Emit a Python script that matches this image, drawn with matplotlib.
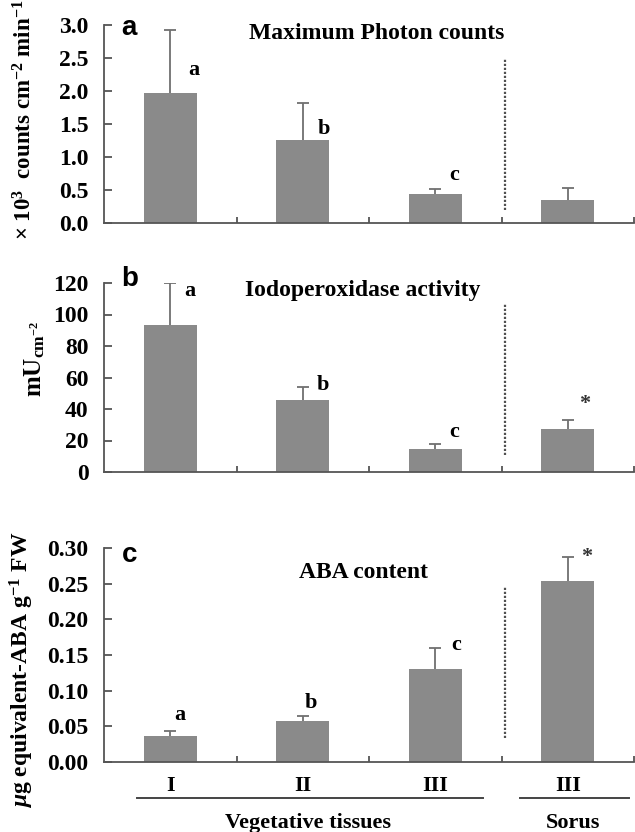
import matplotlib
matplotlib.use("Agg")
import matplotlib.pyplot as plt
import matplotlib.transforms as mtransforms
from matplotlib.lines import Line2D

plt.rcParams['font.family'] = ['Liberation Serif', 'DejaVu Serif']
plt.rcParams['font.weight'] = 'bold'
plt.rcParams['mathtext.fontset'] = 'custom'
plt.rcParams['mathtext.rm'] = 'Liberation Serif:bold'
plt.rcParams['mathtext.it'] = 'Liberation Serif:bold:italic'
plt.rcParams['mathtext.bf'] = 'Liberation Serif:bold'

# ---------------- data ----------------
categories = ["I", "II", "III", "III"]
groups = ["Vegetative tissues", "Sorus"]

photon_vals = [1.97, 1.26, 0.445, 0.355]
photon_tops = [2.93, 1.82, 0.51, 0.53]
photon_sig = ["a", "b", "c", ""]
photon_sig_y = [2.32, 1.43, 0.72, 0.0]

iodo_vals = [93.5, 45.7, 14.5, 27.5]
iodo_tops = [120, 54, 17.5, 33]
iodo_sig = ["a", "b", "c", "*"]
iodo_sig_y = [115, 55.5, 25.6, 43]

aba_vals = [0.036, 0.057, 0.131, 0.254]
aba_tops = [0.044, 0.065, 0.160, 0.287]
aba_sig = ["a", "b", "c", "*"]
aba_sig_y = [0.066, 0.083, 0.164, 0.288]

panels = [
    dict(letter="a", title="Maximum Photon counts", vals=photon_vals, tops=photon_tops,
         sig=photon_sig, sig_y=photon_sig_y, ylim=3.0, yticks=[0.0, 0.5, 1.0, 1.5, 2.0, 2.5, 3.0],
         fmt="{:.1f}", title_xy=(1.56, 2.87), letter_y=2.95, sig_dx=[0.18, 0.16, 0.14, 0.14],
         dotted=(0.19, 2.48),
         ylabel=r"$\times$ 10$^{3}$  counts cm$^{-2}$ min$^{-1}$", ylabel_xy=(-0.128, 0.52),
         ylabel_size=16.5,
         rect=[104/635, (832-223)/832, 530/635, 198/832]),
    dict(letter="b", title="Iodoperoxidase activity", vals=iodo_vals, tops=iodo_tops,
         sig=iodo_sig, sig_y=iodo_sig_y, ylim=120, yticks=[0, 20, 40, 60, 80, 100, 120],
         fmt="{:d}", title_xy=(1.45, 115), letter_y=122.5, sig_dx=[0.15, 0.15, 0.14, 0.13],
         dotted=(10.7, 107),
         ylabel=r"mU$_{\mathrm{cm}^{-2}}$", ylabel_xy=(-0.108, 0.6),
         ylabel_size=18,
         rect=[104/635, (832-472)/832, 530/635, 189/832]),
    dict(letter="c", title="ABA content", vals=aba_vals, tops=aba_tops,
         sig=aba_sig, sig_y=aba_sig_y, ylim=0.30, yticks=[0.0, 0.05, 0.10, 0.15, 0.20, 0.25, 0.30],
         fmt="{:.2f}", title_xy=(1.46, 0.265), letter_y=0.29, sig_dx=[0.07, 0.06, 0.16, 0.14],
         dotted=(0.033, 0.246),
         ylabel=r"$\mu$g equivalent-ABA g$^{-1}$ FW", ylabel_xy=(-0.128, 0.43),
         ylabel_size=17,
         rect=[104/635, (832-762)/832, 530/635, 214/832]),
]

bar_color = "#8a8a8a"
err_color = "#707070"
axis_color = "#555555"

fig = plt.figure(figsize=(6.35, 8.32), dpi=100)

x = list(range(len(categories)))
axes = []
for p in panels:
    ax = fig.add_axes(p["rect"])
    axes.append(ax)
    ax.bar(x, p["vals"], width=0.40, color=bar_color, edgecolor="none", zorder=2)
    yerr_up = [t - v for t, v in zip(p["tops"], p["vals"])]
    eb = ax.errorbar(x, p["vals"], yerr=[[0]*len(x), yerr_up], fmt="none", ecolor=err_color,
                     elinewidth=1.3, capsize=4.5, capthick=1.3, zorder=3)
    # hide the lower caps (only upper error bars are drawn in the figure)
    eb[1][0].set_visible(False)
    ax.set_xlim(-0.5, 3.5)
    ax.set_ylim(0, p["ylim"])
    for s in ["top", "right"]:
        ax.spines[s].set_visible(False)
    for s in ["left", "bottom"]:
        ax.spines[s].set_color(axis_color)
        ax.spines[s].set_linewidth(1.3)
    ax.set_yticks(p["yticks"])
    if p["fmt"] == "{:d}":
        ax.set_yticklabels([str(int(t)) for t in p["yticks"]])
    else:
        ax.set_yticklabels([p["fmt"].format(t) for t in p["yticks"]])
    ax.set_xticks([0.5, 1.5, 2.5, 3.5])
    ax.set_xticklabels([])
    ax.tick_params(axis="y", direction="in", length=6, width=1.3, color=axis_color,
                   labelsize=17, pad=11)
    ax.tick_params(axis="x", direction="in", length=4, width=1.3, color=axis_color)
    for lab in ax.get_yticklabels():
        lab.set_fontweight("bold")
    ax.patch.set_visible(False)

    # dotted separator
    ax.plot([2.53, 2.53], p["dotted"], linestyle=(0, (1, 0.8)), color="#505050", lw=1.6)
    # title
    ax.text(p["title_xy"][0], p["title_xy"][1], p["title"], ha="center", va="center",
            fontsize=17, fontweight="bold")
    # panel letter
    ax.text(-0.31, p["letter_y"], p["letter"], ha="center", va="center", fontsize=20,
            fontweight="bold", family=["Liberation Sans", "DejaVu Sans"])
    # significance letters
    for xi, s, sy, dx in zip(x, p["sig"], p["sig_y"], p["sig_dx"]):
        if s:
            ax.text(xi + dx, sy, s, ha="center", va="center", fontsize=16, fontweight="bold",
                    color="#333333" if s == "*" else "black")
    ax.set_ylabel(p["ylabel"], fontsize=p["ylabel_size"], fontweight="bold")
    ax.yaxis.set_label_coords(*p["ylabel_xy"])

# bottom category labels
axc = axes[-1]
trans = mtransforms.blended_transform_factory(axc.transData, fig.transFigure)
for xi, c in zip(x, categories):
    axc.text(xi, 1 - 786/832, c, transform=trans, ha="center", va="center",
             fontsize=16, fontweight="bold", clip_on=False)
for (x0, x1) in [(-0.25, 2.36), (2.64, 3.46)]:
    ln = Line2D([x0, x1], [1 - 798/832, 1 - 798/832], transform=trans, color="#444444", lw=1.4)
    ln.set_clip_on(False)
    axc.add_line(ln)
axc.text(1.04, 1 - 823/832, groups[0], transform=trans, ha="center", va="center",
         fontsize=16, fontweight="bold", clip_on=False)
axc.text(3.04, 1 - 823/832, groups[1], transform=trans, ha="center", va="center",
         fontsize=16, fontweight="bold", clip_on=False)

fig.savefig("out.png", dpi=100)
